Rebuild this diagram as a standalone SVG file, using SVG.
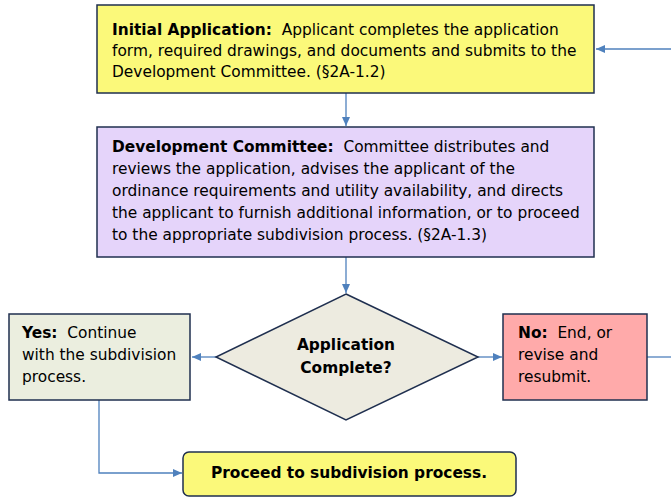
<svg xmlns="http://www.w3.org/2000/svg" width="671" height="498" viewBox="0 0 671 498">
<defs>
<marker id="ah" markerWidth="10" markerHeight="10" refX="9" refY="5" orient="auto" markerUnits="userSpaceOnUse">
<path d="M0,1 L9,5 L0,9 Z" fill="#4F81BD"/>
</marker>
<style>
.box{stroke:#1F2F4F;stroke-width:1.5}
.t{font-family:"DejaVu Sans",Verdana,sans-serif;font-size:15.4px;fill:#000;white-space:pre}
.b{font-weight:bold}
.c{stroke:#4F81BD;stroke-width:1.3;fill:none}
</style>
</defs>
<rect width="671" height="498" fill="#fff"/>
<g id="connectors">
<path class="c" d="M671,49 H596" marker-end="url(#ah)"/>
<path class="c" d="M346,93 V126" marker-end="url(#ah)"/>
<path class="c" d="M346,257 V293" marker-end="url(#ah)"/>
<path class="c" d="M216,357 H192" marker-end="url(#ah)"/>
<path class="c" d="M478,357 H502" marker-end="url(#ah)"/>
<path class="c" d="M647,357 H671"/>
<path class="c" d="M99,400 V473 H182" marker-end="url(#ah)"/>
</g>
<g id="initial">
<rect class="box" x="97" y="5" width="497" height="88" fill="#FBF97A"/>
<text class="t" x="112" y="35" xml:space="preserve"><tspan class="b">Initial Application:</tspan>  Applicant completes the application</text>
<text class="t" x="112" y="56">form, required drawings, and documents and submits to the</text>
<text class="t" x="112" y="77">Development Committee. (§2A-1.2)</text>
</g>
<g id="committee">
<rect class="box" x="97" y="127" width="497" height="130" fill="#E5D4FA"/>
<text class="t" x="112" y="152" xml:space="preserve"><tspan class="b">Development Committee:</tspan>  Committee distributes and</text>
<text class="t" x="112" y="174">reviews the application, advises the applicant of the</text>
<text class="t" x="112" y="196">ordinance requirements and utility availability, and directs</text>
<text class="t" x="112" y="218">the applicant to furnish additional information, or to proceed</text>
<text class="t" x="112" y="240">to the appropriate subdivision process. (§2A-1.3)</text>
</g>
<g id="decision">
<polygon class="box" points="346,294 478,357 346,420 216,357" fill="#EDEBE0"/>
<text class="t b" x="346" y="350" text-anchor="middle">Application</text>
<text class="t b" x="346" y="373" text-anchor="middle">Complete?</text>
</g>
<g id="yes">
<rect class="box" x="9" y="314" width="181" height="86" fill="#EBEEDF"/>
<text class="t" x="22" y="338" xml:space="preserve"><tspan class="b">Yes:</tspan>  Continue</text>
<text class="t" x="22" y="360">with the subdivision</text>
<text class="t" x="22" y="382">process.</text>
</g>
<g id="no">
<rect class="box" x="503" y="314" width="144" height="86" fill="#FFAAAA"/>
<text class="t" x="518" y="338" xml:space="preserve"><tspan class="b">No:</tspan>  End, or</text>
<text class="t" x="518" y="360">revise and</text>
<text class="t" x="518" y="382">resubmit.</text>
</g>
<g id="proceed">
<rect class="box" x="183" y="452" width="333" height="44" rx="6" fill="#FBF97A"/>
<text class="t b" x="349" y="478" text-anchor="middle">Proceed to subdivision process.</text>
</g>
</svg>
